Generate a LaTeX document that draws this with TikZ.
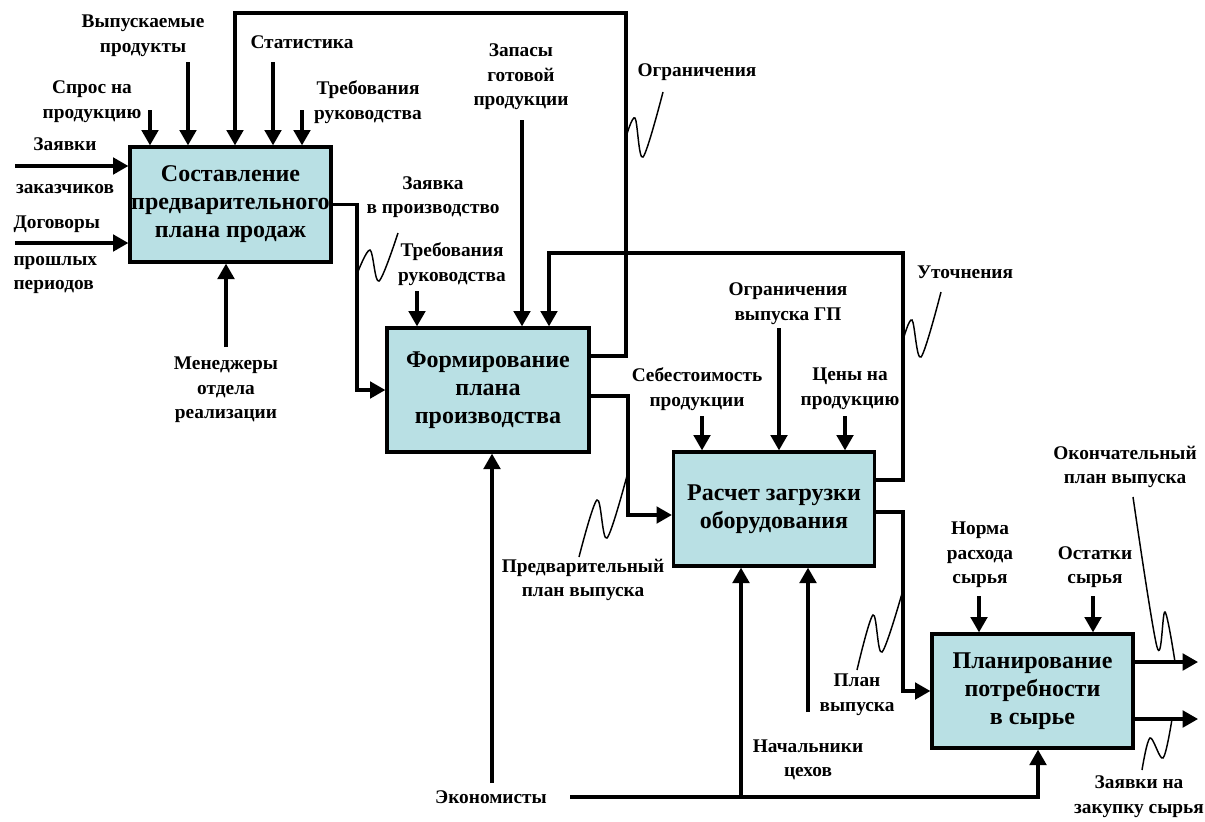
\documentclass[tikz,border=0pt]{standalone}
\usepackage{fontspec}
\setmainfont{Liberation Serif}
\usetikzlibrary{arrows.meta}

\definecolor{block fill}{RGB}{185,224,228}
\tikzset{func/.style={draw, line width=2.5pt, fill=block fill, inner sep=0pt,
        minimum width=150.75pt, minimum height=85.5pt, align=center,
        font=\fontsize{18}{21}\selectfont\bfseries},
    lbl/.style={align=center, inner sep=1pt, font=\fontsize{14.5}{18.5}\selectfont\bfseries},
    flow/.style={line width=2.3pt, -{Triangle[length=11.5pt,width=12.5pt]}},
    squig/.style={line width=1.1pt, smooth, tension=0.55}}

\begin{document}
\begin{tikzpicture}[x=0.75pt, y=-0.75pt]
    \useasboundingbox (0,0) rectangle (1205,821);

    % function blocks
    \node[func, minimum height=86.25pt] (sales) at (230.5,204.5)
        {Составление\\предварительного\\плана продаж};
    \node[func, minimum width=151.5pt, minimum height=93pt] (prodplan) at (488,390)
        {Формирование\\плана\\производства};
    \node[func] (load) at (774,509) {Расчет загрузки\\оборудования};
    \node[func] (rawneed) at (1032.5,691) {Планирование\\потребности\\в сырье};

    % labels
    \node[lbl] (products) at (143,36) {Выпускаемые\\продукты};
    \node[lbl] (demand) at (92,102) {Спрос на\\продукцию};
    \node[lbl] (stats) at (302,42) {Статистика};
    \node[lbl] (req1) at (368,102) {Требования\\руководства};
    \node[lbl] (orders) at (65,166) {Заявки\\[14pt]заказчиков};
    \node[lbl, align=left, anchor=west] (contracts) at (12,255) {Договоры\\[9pt]прошлых\\периодов};
    \node[lbl] (mgr) at (226,390) {Менеджеры\\отдела\\реализации};
    \node[lbl] (prodreq) at (433,197) {Заявка\\в производство};
    \node[lbl] (req2) at (452,264) {Требования\\руководства};
    \node[lbl] (stock) at (521,77) {Запасы\\готовой\\продукции};
    \node[lbl] (limits) at (697,72) {Ограничения};
    \node[lbl] (refine) at (965,272) {Уточнения};
    \node[lbl] (gplimits) at (788,304) {Ограничения\\выпуска ГП};
    \node[lbl] (cost) at (697,389) {Себестоимость\\продукции};
    \node[lbl] (prices) at (850,389) {Цены на\\продукцию};
    \node[lbl] (prelim) at (583,580) {Предварительный\\план выпуска};
    \node[lbl] (econ) at (491,797) {Экономисты};
    \node[lbl] (heads) at (808,760) {Начальники\\цехов};
    \node[lbl] (outplan) at (857,695) {План\\выпуска};
    \node[lbl] (norm) at (980,555) {Норма\\расхода\\сырья};
    \node[lbl] (rest) at (1095,567) {Остатки\\сырья};
    \node[lbl] (final) at (1125,467) {Окончательный\\план выпуска};
    \node[lbl] (purchase) at (1139,797) {Заявки на\\закупку сырья};

    % inputs and controls
    \foreach \x/\y in {150/110, 188/62, 273/62, 302/110}
        \draw[flow] (\x,\y) coordinate (s) -- (s |- sales.north);
    \foreach \y in {166, 243}
        \draw[flow] (15,\y) coordinate (s) -- (s -| sales.west);
    \foreach \x/\y in {417/291, 522/120}
        \draw[flow] (\x,\y) coordinate (s) -- (s |- prodplan.north);
    \foreach \x/\y in {702/416, 779/328, 845/416}
        \draw[flow] (\x,\y) coordinate (s) -- (s |- load.north);
    \foreach \x in {979, 1093}
        \draw[flow] (\x,596) coordinate (s) -- (s |- rawneed.north);

    % mechanisms
    \draw[flow] (226,347) coordinate (s) -- (s |- sales.south);
    \draw[flow] (492,783) coordinate (s) -- (s |- prodplan.south);
    \draw[flow] (808,712) coordinate (s) -- (s |- load.south);
    \path (570,797) coordinate (e1) (741,797) coordinate (e2) (1038,797) coordinate (e3);
    \draw[flow] (e1) -- (e3) -- (e3 |- rawneed.south);
    \draw[flow] (e2) -- (e2 |- load.south);

    % outputs
    \draw[flow] (sales.east) -- (357,204.5) coordinate (a1) |- (prodplan.west);
    \path (626,356) coordinate (r1) (626,13) coordinate (r2) (235,13) coordinate (r3);
    \draw[flow] (r1 -| prodplan.east) -- (r1) -- (r2) -- (r3) -- (r3 |- sales.north);
    \path (628,396) coordinate (p1) (628,515) coordinate (p2);
    \draw[flow] (p1 -| prodplan.east) -- (p1) -- (p2) -- (p2 -| load.west);
    \path (903,480) coordinate (u1) (903,253) coordinate (u2) (549,253) coordinate (u3);
    \draw[flow] (u1 -| load.east) -- (u1) -- (u2) -- (u3) -- (u3 |- prodplan.north);
    \path (903,512) coordinate (q1) (903,691) coordinate (q2);
    \draw[flow] (q1 -| load.east) -- (q1) -- (q2) -- (q2 -| rawneed.west);
    \foreach \y in {662, 719}
        \draw[flow] (1198,\y) coordinate (s) (s -| rawneed.east) -- (s);

    % squiggles
    \draw[squig] plot coordinates {(398,233) (379,281) (370,250) (357,274)};
    \draw[squig] plot coordinates {(663,92) (643,157) (635,118) (626,137)};
    \draw[squig] plot coordinates {(941,292) (921,357) (912,320) (903,340)};
    \draw[squig] plot coordinates {(579,557) (597,500) (607,538) (628,472)};
    \draw[squig] plot coordinates {(857,670) (873,615) (882,652) (903,590)};
    \draw[squig] plot coordinates {(1133,497) (1157,647) (1165,612) (1175,662)};
    \draw[squig] plot coordinates {(1142,770) (1150,738) (1163,758) (1172,719)};
\end{tikzpicture}
\end{document}
